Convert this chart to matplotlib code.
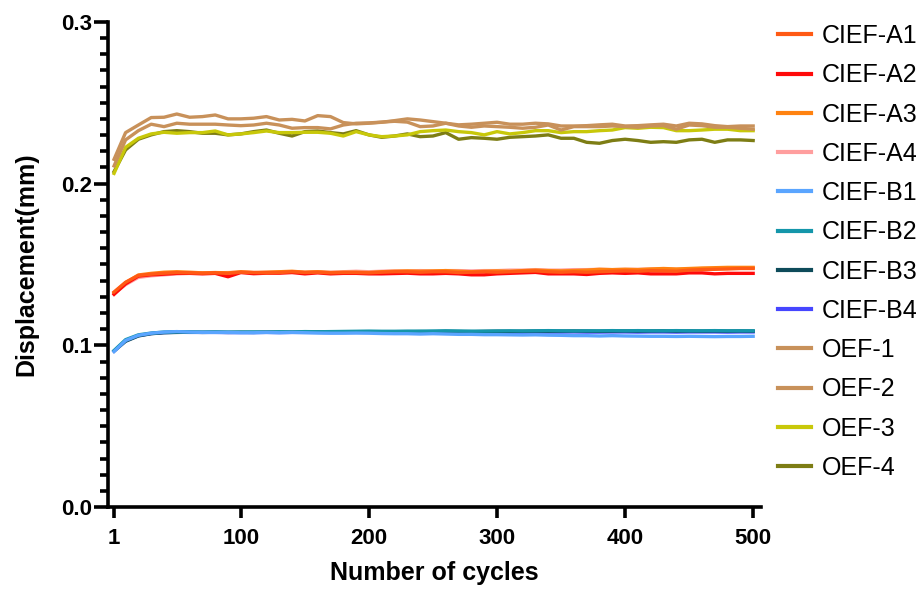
import matplotlib
matplotlib.use("Agg")
import matplotlib.pyplot as plt
from matplotlib.ticker import MultipleLocator, FixedLocator

plt.rcParams['font.family'] = ['Liberation Sans', 'DejaVu Sans']

cycles = [1, 10, 20, 30, 40, 50, 60, 70, 80, 90, 100, 110, 120, 130, 140, 150, 160, 170,
          180, 190, 200, 210, 220, 230, 240, 250, 260, 270, 280, 290, 300, 310, 320, 330,
          340, 350, 360, 370, 380, 390, 400, 410, 420, 430, 440, 450, 460, 470, 480, 490, 500]

cief_a1 = [0.1330, 0.1390, 0.1432, 0.1440, 0.1446, 0.1450, 0.1448, 0.1446, 0.1448, 0.1445,
           0.1452, 0.1450, 0.1448, 0.1450, 0.1455, 0.1450, 0.1452, 0.1448, 0.1450, 0.1450,
           0.1448, 0.1452, 0.1455, 0.1455, 0.1452, 0.1455, 0.1455, 0.1450, 0.1452, 0.1455,
           0.1452, 0.1455, 0.1458, 0.1460, 0.1455, 0.1452, 0.1455, 0.1452, 0.1455, 0.1458,
           0.1460, 0.1458, 0.1462, 0.1460, 0.1458, 0.1465, 0.1468, 0.1470, 0.1472, 0.1475, 0.1475]
cief_a2 = [0.1315, 0.1380, 0.1428, 0.1436, 0.1440, 0.1445, 0.1445, 0.1442, 0.1445, 0.1424,
           0.1450, 0.1443, 0.1446, 0.1446, 0.1450, 0.1442, 0.1448, 0.1442, 0.1445, 0.1445,
           0.1442, 0.1442, 0.1444, 0.1446, 0.1442, 0.1442, 0.1445, 0.1442, 0.1436, 0.1436,
           0.1442, 0.1445, 0.1448, 0.1451, 0.1442, 0.1442, 0.1442, 0.1438, 0.1445, 0.1448,
           0.1445, 0.1448, 0.1442, 0.1442, 0.1442, 0.1448, 0.1448, 0.1442, 0.1445, 0.1445, 0.1445]
cief_a3 = [0.1325, 0.1388, 0.1435, 0.1445, 0.1452, 0.1455, 0.1452, 0.1448, 0.1450, 0.1448,
           0.1455, 0.1450, 0.1452, 0.1455, 0.1458, 0.1452, 0.1455, 0.1450, 0.1452, 0.1452,
           0.1450, 0.1455, 0.1458, 0.1460, 0.1458, 0.1460, 0.1462, 0.1458, 0.1455, 0.1458,
           0.1460, 0.1458, 0.1462, 0.1465, 0.1462, 0.1460, 0.1462, 0.1465, 0.1470, 0.1468,
           0.1470, 0.1468, 0.1472, 0.1475, 0.1472, 0.1475, 0.1478, 0.1480, 0.1482, 0.1482, 0.1482]
cief_a4 = [0.1320, 0.1375, 0.1420, 0.1430, 0.1436, 0.1442, 0.1445, 0.1448, 0.1448, 0.1450,
           0.1452, 0.1450, 0.1452, 0.1455, 0.1455, 0.1452, 0.1455, 0.1452, 0.1455, 0.1458,
           0.1455, 0.1458, 0.1460, 0.1460, 0.1462, 0.1460, 0.1462, 0.1462, 0.1460, 0.1462,
           0.1462, 0.1465, 0.1465, 0.1468, 0.1465, 0.1465, 0.1468, 0.1468, 0.1470, 0.1468,
           0.1470, 0.1470, 0.1472, 0.1472, 0.1470, 0.1472, 0.1475, 0.1475, 0.1478, 0.1478, 0.1478]
cief_b1 = [0.0962, 0.1030, 0.1062, 0.1075, 0.1082, 0.1085, 0.1082, 0.1080, 0.1080, 0.1080,
           0.1078, 0.1078, 0.1080, 0.1078, 0.1080, 0.1078, 0.1076, 0.1075, 0.1075, 0.1076,
           0.1075, 0.1073, 0.1072, 0.1072, 0.1070, 0.1072, 0.1070, 0.1068, 0.1068, 0.1066,
           0.1066, 0.1065, 0.1064, 0.1065, 0.1063, 0.1062, 0.1060, 0.1060, 0.1058, 0.1060,
           0.1058, 0.1057, 0.1056, 0.1056, 0.1055, 0.1056, 0.1055, 0.1054, 0.1055, 0.1055, 0.1056]
cief_b2 = [0.0968, 0.1035, 0.1065, 0.1076, 0.1082, 0.1084, 0.1083, 0.1082, 0.1083, 0.1082,
           0.1082, 0.1083, 0.1082, 0.1084, 0.1083, 0.1085, 0.1084, 0.1085, 0.1086, 0.1087,
           0.1088, 0.1087, 0.1087, 0.1088, 0.1088, 0.1089, 0.1090, 0.1089, 0.1088, 0.1088,
           0.1089, 0.1090, 0.1089, 0.1090, 0.1091, 0.1090, 0.1089, 0.1090, 0.1090, 0.1091,
           0.1090, 0.1091, 0.1090, 0.1090, 0.1091, 0.1090, 0.1090, 0.1091, 0.1090, 0.1090, 0.1090]
cief_b3 = [0.0965, 0.1025, 0.1058, 0.1072, 0.1078, 0.1080, 0.1081, 0.1080, 0.1081, 0.1080,
           0.1081, 0.1080, 0.1082, 0.1081, 0.1082, 0.1082, 0.1083, 0.1082, 0.1083, 0.1082,
           0.1083, 0.1084, 0.1083, 0.1084, 0.1085, 0.1084, 0.1086, 0.1085, 0.1084, 0.1086,
           0.1087, 0.1086, 0.1087, 0.1088, 0.1087, 0.1088, 0.1089, 0.1088, 0.1087, 0.1088,
           0.1089, 0.1088, 0.1089, 0.1090, 0.1088, 0.1089, 0.1088, 0.1089, 0.1088, 0.1089, 0.1088]
cief_b4 = [0.0964, 0.1028, 0.1060, 0.1073, 0.1079, 0.1081, 0.1080, 0.1080, 0.1080, 0.1079,
           0.1079, 0.1079, 0.1080, 0.1079, 0.1080, 0.1080, 0.1080, 0.1079, 0.1080, 0.1080,
           0.1080, 0.1080, 0.1079, 0.1080, 0.1080, 0.1080, 0.1081, 0.1080, 0.1080, 0.1081,
           0.1082, 0.1081, 0.1081, 0.1082, 0.1082, 0.1082, 0.1083, 0.1082, 0.1082, 0.1083,
           0.1083, 0.1082, 0.1083, 0.1083, 0.1082, 0.1083, 0.1083, 0.1083, 0.1082, 0.1083, 0.1083]
oef_1 = [0.2150, 0.2315, 0.2362, 0.2408, 0.2410, 0.2430, 0.2410, 0.2414, 0.2424, 0.2400,
         0.2400, 0.2404, 0.2414, 0.2393, 0.2397, 0.2387, 0.2420, 0.2414, 0.2377, 0.2369,
         0.2373, 0.2379, 0.2389, 0.2400, 0.2393, 0.2383, 0.2373, 0.2363, 0.2367, 0.2373,
         0.2379, 0.2367, 0.2367, 0.2373, 0.2369, 0.2356, 0.2356, 0.2358, 0.2363, 0.2367,
         0.2356, 0.2358, 0.2363, 0.2367, 0.2356, 0.2373, 0.2369, 0.2358, 0.2352, 0.2356, 0.2356]
oef_2 = [0.2109, 0.2270, 0.2327, 0.2367, 0.2352, 0.2373, 0.2367, 0.2367, 0.2367, 0.2362,
         0.2358, 0.2362, 0.2373, 0.2362, 0.2342, 0.2346, 0.2346, 0.2338, 0.2362, 0.2373,
         0.2375, 0.2380, 0.2385, 0.2380, 0.2352, 0.2356, 0.2373, 0.2356, 0.2348, 0.2356,
         0.2352, 0.2348, 0.2342, 0.2348, 0.2362, 0.2331, 0.2352, 0.2352, 0.2352, 0.2356,
         0.2352, 0.2348, 0.2356, 0.2358, 0.2336, 0.2362, 0.2358, 0.2348, 0.2348, 0.2342, 0.2336]
oef_3 = [0.2063, 0.2224, 0.2280, 0.2307, 0.2317, 0.2311, 0.2315, 0.2315, 0.2325, 0.2301,
         0.2307, 0.2315, 0.2325, 0.2315, 0.2315, 0.2317, 0.2317, 0.2311, 0.2294, 0.2321,
         0.2301, 0.2290, 0.2294, 0.2301, 0.2321, 0.2327, 0.2331, 0.2321, 0.2315, 0.2301,
         0.2321, 0.2307, 0.2315, 0.2327, 0.2327, 0.2315, 0.2321, 0.2321, 0.2327, 0.2331,
         0.2346, 0.2342, 0.2348, 0.2346, 0.2327, 0.2327, 0.2331, 0.2336, 0.2336, 0.2327, 0.2327]
oef_4 = [0.2074, 0.2208, 0.2274, 0.2301, 0.2321, 0.2327, 0.2321, 0.2311, 0.2311, 0.2301,
         0.2307, 0.2321, 0.2331, 0.2311, 0.2294, 0.2321, 0.2325, 0.2315, 0.2307, 0.2327,
         0.2301, 0.2286, 0.2294, 0.2307, 0.2290, 0.2294, 0.2315, 0.2274, 0.2284, 0.2280,
         0.2274, 0.2286, 0.2290, 0.2294, 0.2301, 0.2280, 0.2280, 0.2255, 0.2249, 0.2266,
         0.2274, 0.2266, 0.2255, 0.2259, 0.2255, 0.2270, 0.2274, 0.2255, 0.2270, 0.2270, 0.2266]

series_labels = ["CIEF-A1", "CIEF-A2", "CIEF-A3", "CIEF-A4", "CIEF-B1", "CIEF-B2",
                 "CIEF-B3", "CIEF-B4", "OEF-1", "OEF-2", "OEF-3", "OEF-4"]
series_values = [cief_a1, cief_a2, cief_a3, cief_a4, cief_b1, cief_b2,
                 cief_b3, cief_b4, oef_1, oef_2, oef_3, oef_4]
colors = ["#FF5A14", "#FF0A0A", "#FF8210", "#FF9E9E", "#5AA5FF", "#1496AA",
          "#0E4B5A", "#4646FF", "#C8915A", "#C8915A", "#C8C80A", "#7D7D14"]

xticks = [1, 100, 200, 300, 400, 500]
yticks = [0.0, 0.1, 0.2, 0.3]

fig = plt.figure(figsize=(9.2, 5.89), dpi=100)
ax = fig.add_axes([0.117, 0.139, 0.71, 0.824])

handles = []
n = len(series_labels)
for i, (lab, vals, col) in enumerate(zip(series_labels, series_values, colors)):
    h, = ax.plot(cycles, vals, color=col, lw=2.4, label=lab, solid_joinstyle='round',
                 zorder=3 + (n - i) * 0.1)
    handles.append(h)

ax.set_xlim(-4, 506)
ax.set_ylim(0, 0.3)
ax.xaxis.set_major_locator(FixedLocator(xticks))
ax.set_xticklabels([str(t) for t in xticks])
ax.yaxis.set_major_locator(FixedLocator(yticks))
ax.set_yticklabels(["%.1f" % t for t in yticks])
ax.yaxis.set_minor_locator(MultipleLocator(0.01))

for s in ['top', 'right']:
    ax.spines[s].set_visible(False)
for s in ['left', 'bottom']:
    ax.spines[s].set_linewidth(2.6)
    ax.spines[s].set_color('black')

ax.tick_params(axis='y', which='major', length=10, width=2.6, direction='out', pad=1.5,
               labelsize=16)
ax.tick_params(axis='y', which='minor', length=5.5, width=2.6, direction='out')
ax.tick_params(axis='x', which='major', length=8, width=2.6, direction='out', pad=7,
               labelsize=16)
for lbl in ax.get_xticklabels() + ax.get_yticklabels():
    lbl.set_fontweight('bold')

ax.set_xlabel("Number of cycles", fontsize=18, fontweight='bold', labelpad=9)
ax.set_ylabel("Displacement(mm)", fontsize=18, fontweight='bold', labelpad=16)

leg = fig.legend(handles=handles, loc='center left', bbox_to_anchor=(0.821, 0.572),
                 frameon=False, fontsize=18, handlelength=1.32, handletextpad=0.44,
                 labelspacing=0.61)
for ln in leg.get_lines():
    ln.set_linewidth(3)

fig.savefig("out.png", dpi=100)
